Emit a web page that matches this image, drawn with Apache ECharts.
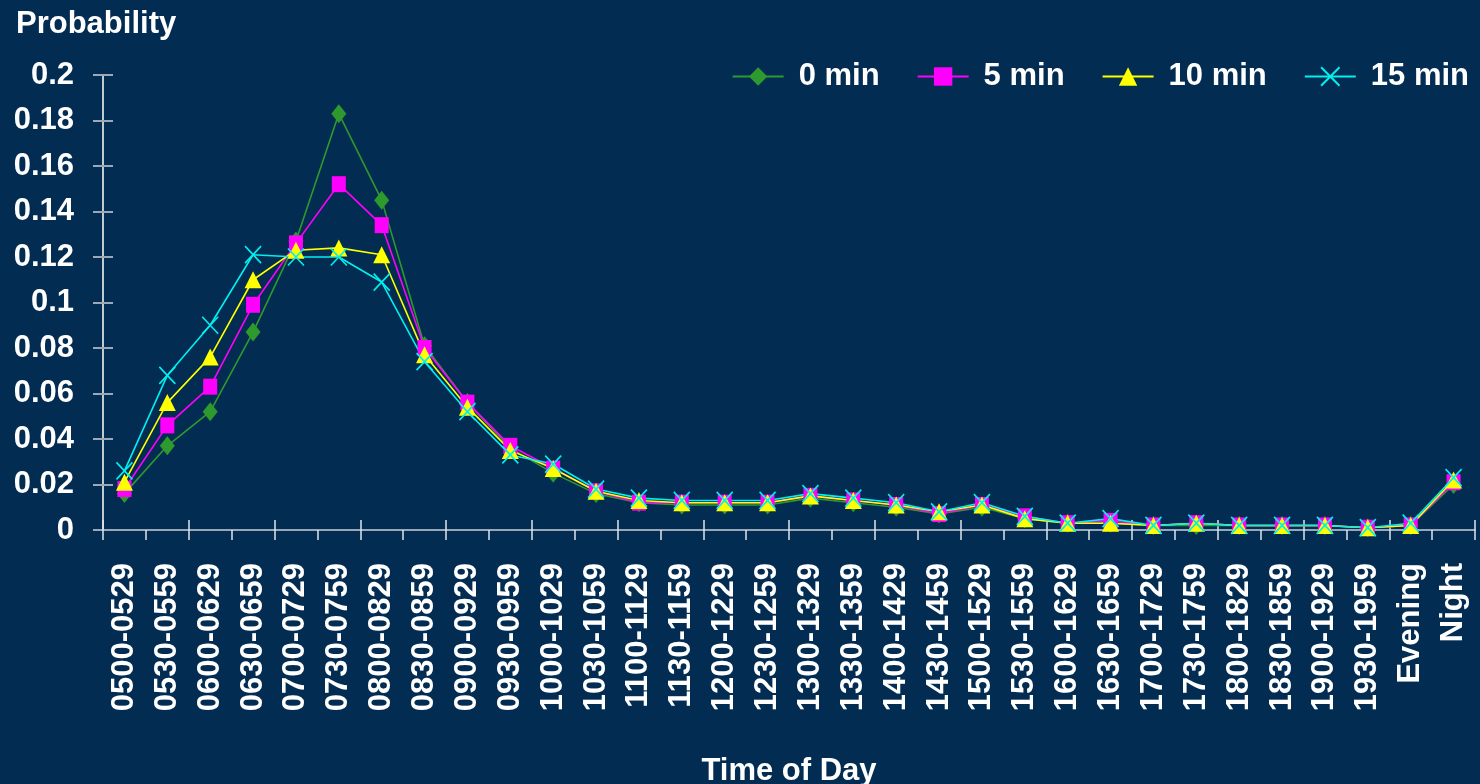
<!DOCTYPE html>
<html>
<head>
<meta charset="utf-8">
<title>Probability by Time of Day</title>
<script src="https://cdn.jsdelivr.net/npm/echarts@6/dist/echarts.min.js"></script>
<style>
  html, body { margin: 0; padding: 0; background: #032c52; }
  #chart { width: 1480px; height: 784px; }
</style>
</head>
<body>
<div id="chart"></div>
<script>
// Half-hour time slots, plus the evening and night periods
const categories = [
  '0500-0529','0530-0559','0600-0629','0630-0659','0700-0729','0730-0759',
  '0800-0829','0830-0859','0900-0929','0930-0959','1000-1029','1030-1059',
  '1100-1129','1130-1159','1200-1229','1230-1259','1300-1329','1330-1359',
  '1400-1429','1430-1459','1500-1529','1530-1559','1600-1629','1630-1659',
  '1700-1729','1730-1759','1800-1829','1830-1859','1900-1929','1930-1959',
  'Evening','Night'
];

const seriesNames = ['0 min', '5 min', '10 min', '15 min'];

const min0 = [
  0.016, 0.037, 0.052, 0.087, 0.127, 0.183, 0.145, 0.081, 0.056, 0.036, 0.025, 0.016,
  0.012, 0.011, 0.011, 0.011, 0.014, 0.012, 0.010, 0.007, 0.010, 0.005, 0.003, 0.003,
  0.002, 0.002, 0.002, 0.002, 0.002, 0.001, 0.002, 0.020
];
const min5 = [
  0.018, 0.046, 0.063, 0.099, 0.126, 0.152, 0.134, 0.080, 0.056, 0.037, 0.027, 0.017,
  0.012, 0.012, 0.012, 0.012, 0.015, 0.013, 0.011, 0.007, 0.011, 0.006, 0.003, 0.004,
  0.002, 0.003, 0.002, 0.002, 0.002, 0.001, 0.002, 0.021
];
const min10 = [
  0.021, 0.056, 0.076, 0.110, 0.123, 0.124, 0.121, 0.077, 0.054, 0.035, 0.027, 0.017,
  0.013, 0.012, 0.012, 0.012, 0.015, 0.013, 0.011, 0.008, 0.011, 0.005, 0.003, 0.003,
  0.002, 0.003, 0.002, 0.002, 0.002, 0.001, 0.002, 0.022
];
const min15 = [
  0.026, 0.068, 0.090, 0.121, 0.120, 0.120, 0.109, 0.074, 0.052, 0.033, 0.029, 0.018,
  0.014, 0.013, 0.013, 0.013, 0.016, 0.014, 0.012, 0.008, 0.012, 0.006, 0.003, 0.005,
  0.002, 0.003, 0.002, 0.002, 0.002, 0.001, 0.003, 0.023
];

const FONT = '"Liberation Sans", Arial, sans-serif';
const FS = 31;

const crossMark = 'path://M0,0L10,11M10,0L0,11';

function lineSeries(name, data, color, symbol, size) {
  return {
    name: name,
    type: 'line',
    data: data,
    symbol: symbol,
    symbolSize: size,
    lineStyle: { color: color, width: 1.6 },
    itemStyle: { color: color, borderColor: color, borderWidth: symbol === crossMark ? 1.7 : 0 },
    emphasis: { disabled: true },
    animation: false
  };
}

const chart = echarts.init(document.getElementById('chart'), null, { renderer: 'canvas' });

chart.setOption({
  backgroundColor: '#032c52',
  animation: false,
  title: {
    text: 'Probability',
    left: 11,
    top: 4,
    textStyle: { color: '#ffffff', fontFamily: FONT, fontWeight: 'bold', fontSize: FS }
  },
  legend: {
    top: 56,
    right: 6,
    itemWidth: 51,
    itemHeight: 23,
    itemGap: 37,
    textStyle: { color: '#ffffff', fontFamily: FONT, fontWeight: 'bold', fontSize: FS, padding: [0, 0, 0, 10] },
    data: seriesNames
  },
  grid: { left: 103, right: 5, top: 75, bottom: 254, outerBoundsMode: 'none', containLabel: false },
  xAxis: [
    {
      type: 'category',
      data: categories,
      boundaryGap: true,
      name: 'Time of Day',
      nameLocation: 'middle',
      nameGap: 226,
      nameTextStyle: { color: '#ffffff', fontFamily: FONT, fontWeight: 'bold', fontSize: FS },
      axisLine: { lineStyle: { color: '#c8d0da', width: 1.5 } },
      axisTick: { show: true, length: 10, alignWithLabel: false, lineStyle: { color: '#dfe5ec', width: 1.5 } },
      axisLabel: {
        rotate: 90,
        margin: 33,
        interval: 0,
        color: '#ffffff',
        fontFamily: FONT,
        fontWeight: 'bold',
        fontSize: FS
      },
      splitLine: { show: false }
    },
    {
      // companion axis giving the ticks their upper half
      type: 'category',
      data: categories,
      position: 'bottom',
      axisLine: { show: false },
      axisTick: { show: true, inside: true, length: 10, lineStyle: { color: '#dfe5ec', width: 1.5 } },
      axisLabel: { show: false },
      splitLine: { show: false }
    }
  ],
  yAxis: [
    {
      type: 'value',
      min: 0,
      max: 0.2,
      interval: 0.02,
      axisLine: { show: true, lineStyle: { color: '#ffffff', width: 1.5 } },
      axisTick: { show: true, length: 10, lineStyle: { color: '#9aa8b8', width: 2 } },
      axisLabel: {
        margin: 29,
        color: '#ffffff',
        fontFamily: FONT,
        fontWeight: 'bold',
        fontSize: FS,
        formatter: function (v) { return String(Math.round(v * 100) / 100); }
      },
      splitLine: { show: false }
    },
    {
      type: 'value',
      min: 0,
      max: 0.2,
      interval: 0.02,
      position: 'left',
      axisLine: { show: false },
      axisTick: { show: true, inside: true, length: 10, lineStyle: { color: '#9aa8b8', width: 2 } },
      axisLabel: { show: false },
      splitLine: { show: false }
    }
  ],
  series: [
    lineSeries(seriesNames[0], min0, '#2e9a2e', 'diamond', [15, 19]),
    lineSeries(seriesNames[1], min5, '#ff00ff', 'rect', [14, 16]),
    lineSeries(seriesNames[2], min10, '#ffff00', 'triangle', [17, 17]),
    lineSeries(seriesNames[3], min15, '#00f0f0', crossMark, [16, 17])
  ]
});
</script>
</body>
</html>
